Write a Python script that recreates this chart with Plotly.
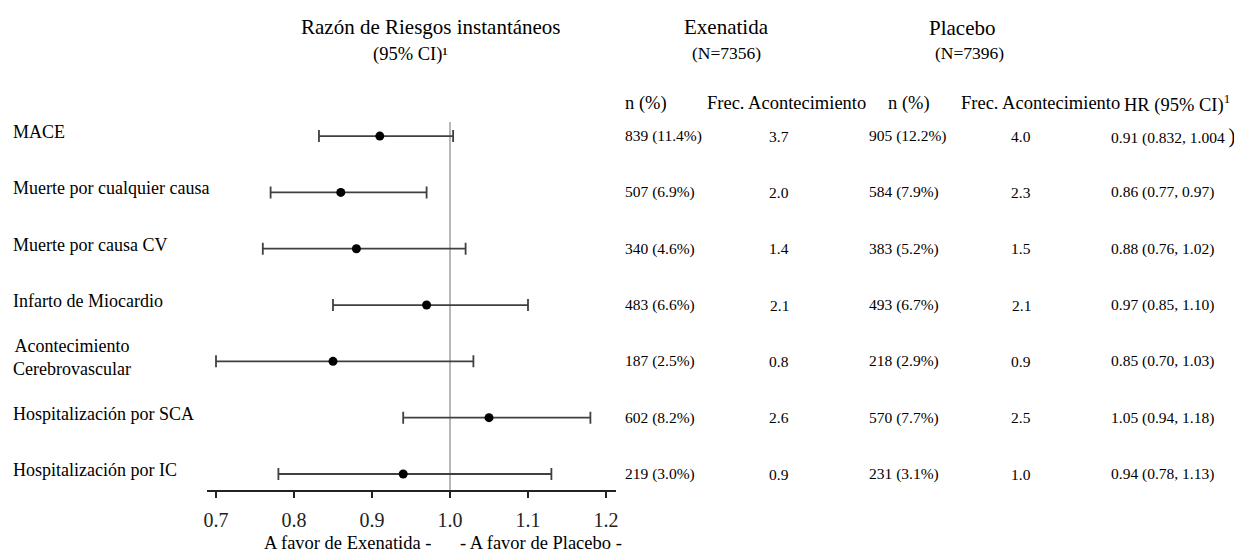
import plotly.graph_objects as go

# ---- data ----
outcomes = ["MACE", "Muerte por cualquier causa", "Muerte por causa CV", "Infarto de Miocardio",
            "Acontecimiento<br>Cerebrovascular", "Hospitalización por SCA", "Hospitalización por IC"]
hr = [0.91, 0.86, 0.88, 0.97, 0.85, 1.05, 0.94]
ci_low = [0.832, 0.77, 0.76, 0.85, 0.70, 0.94, 0.78]
ci_high = [1.004, 0.97, 1.02, 1.10, 1.03, 1.18, 1.13]
exe_n = ["839 (11.4%)", "507 (6.9%)", "340 (4.6%)", "483 (6.6%)", "187 (2.5%)", "602 (8.2%)", "219 (3.0%)"]
exe_rate = ["3.7", "2.0", "1.4", "2.1", "0.8", "2.6", "0.9"]
pla_n = ["905 (12.2%)", "584 (7.9%)", "383 (5.2%)", "493 (6.7%)", "218 (2.9%)", "570 (7.7%)", "231 (3.1%)"]
pla_rate = ["4.0", "2.3", "1.5", "2.1", "0.9", "2.5", "1.0"]
hr_text = ["0.91 (0.832, 1.004 <span style='font-size:21px'>)</span>", "0.86 (0.77, 0.97)", "0.88 (0.76, 1.02)",
           "0.97 (0.85, 1.10)", "0.85 (0.70, 1.03)", "1.05 (0.94, 1.18)", "0.94 (0.78, 1.13)"]
tick_vals = [0.7, 0.8, 0.9, 1.0, 1.1, 1.2]
tick_text = ["0.7", "0.8", "0.9", "1.0", "1.1", "1.2"]

FONT = "Liberation Serif"
PAGE_W, PAGE_H = 1242, 553
OFF = 8  # default body margin of the html page
W, H = PAGE_W - OFF, PAGE_H - OFF
# plot area in page pixels
L, R, T, B = 207, 616, 122, 490
rows = list(range(len(outcomes)))

def px(xp):
    return (xp - L) / (R - L)

def py(yp):
    return (B - yp) / (B - T)

fig = go.Figure()
fig.add_trace(go.Scatter(
    x=hr, y=rows, mode="markers",
    marker=dict(color="black", size=9),
    error_x=dict(type="data", symmetric=False,
                 array=[h - m for h, m in zip(ci_high, hr)],
                 arrayminus=[m - l for m, l in zip(hr, ci_low)],
                 color="#404040", thickness=1.8, width=6),
    showlegend=False, hoverinfo="skip"))

fig.add_shape(type="line", x0=1.0, x1=1.0, xref="x", yref="paper", y0=0, y1=1,
              line=dict(color="#a0a0a0", width=1.5), layer="below")

ann = []
def A(text, x, y, size, xanchor="center", yref="paper", yshift=0):
    ann.append(dict(text=text, x=x, y=y, xref="paper", yref=yref, showarrow=False,
                    xanchor=xanchor, yanchor="middle", yshift=yshift,
                    font=dict(family=FONT, size=size, color="black")))

# headers
A("Razón de Riesgos instantáneos", px(431), py(27), 21)
A("(95% CI)¹", px(410), py(54), 18.5)
A("Exenatida", px(726), py(27), 21)
A("(N=7356)", px(726), py(53), 17.5)
A("Placebo", px(962), py(28), 21)
A("(N=7396)", px(969), py(53), 17.5)
A("n (%)", px(646), py(103), 18.5)
A("Frec. Acontecimiento", px(786), py(103), 18.5)
A("n (%)", px(909), py(103), 18.5)
A("Frec. Acontecimiento", px(1040), py(103), 18.5)
A("HR (95% CI)<sup>1</sup>", px(1122), py(103), 18.5, xanchor="left")

# row labels and table
for i in rows:
    A(outcomes[i], px(11), i, 18, xanchor="left", yref="y", yshift=4)
    A(exe_n[i], px(623), i, 15.5, xanchor="left", yref="y")
    A(exe_rate[i], px(779), i, 15.5, yref="y")
    A(pla_n[i], px(867), i, 15.5, xanchor="left", yref="y")
    A(pla_rate[i], px(1021), i, 15.5, yref="y")
    A(hr_text[i], px(1109), i, 15.5, xanchor="left", yref="y")

# favour labels
A("A favor de Exenatida -", px(433), py(543), 18.5, xanchor="right")
A("- A favor de Placebo -", px(458), py(543), 18.5, xanchor="left")

x0 = 0.7 - (216 - L) / 780
x1 = 0.7 + (R - 216) / 780
fig.update_layout(
    width=W, height=H, autosize=False,
    margin=dict(l=L - OFF, r=PAGE_W - R, t=T - OFF, b=PAGE_H - B, pad=0),
    paper_bgcolor="white", plot_bgcolor="white",
    font=dict(family=FONT, color="black"),
    annotations=ann,
    xaxis=dict(range=[x0, x1], tickvals=tick_vals, ticktext=tick_text,
               showgrid=False, zeroline=False, showline=True, linecolor="#222222", linewidth=2,
               ticks="outside", ticklen=6, tickwidth=1.5, tickcolor="#222222",
               tickfont=dict(family=FONT, size=20, color="#222222"), ticklabelstandoff=5),
    yaxis=dict(range=[6.284, -0.25], showgrid=False, zeroline=False, showline=False,
               showticklabels=False, ticks=""),
)
fig.write_html("out.html")
